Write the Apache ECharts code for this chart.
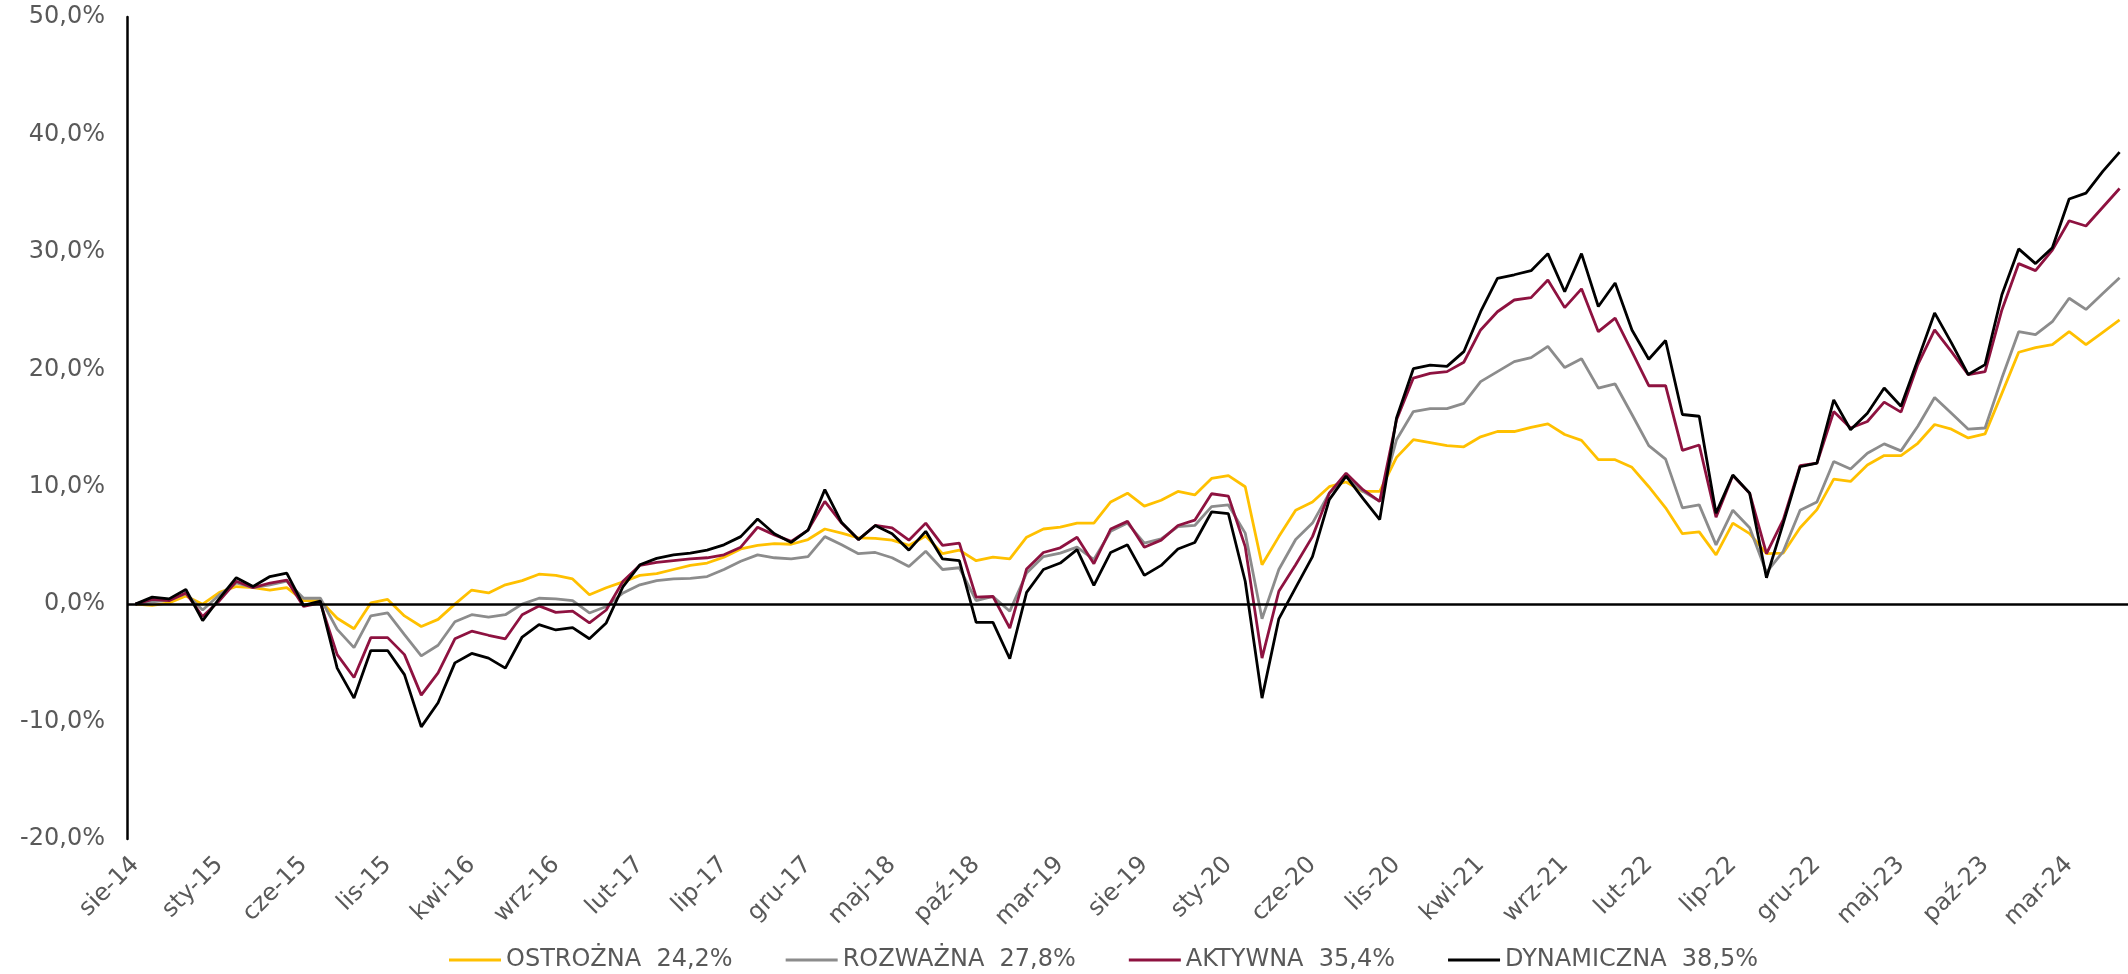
<!DOCTYPE html>
<html>
<head>
<meta charset="utf-8">
<script src="https://cdn.jsdelivr.net/npm/echarts@6/dist/echarts.min.js"></script>
<style>
  html, body { margin: 0; padding: 0; background: #fff; }
  #chart { width: 2128px; height: 974px; }
</style>
</head>
<body>
<div id="chart"></div>
<script>
// miesiące sie-14 ... cze-24
const monthNames = ['sty','lut','mar','kwi','maj','cze','lip','sie','wrz','paź','lis','gru']
const categories = []
for (let i = 0; i < 119; i++) {
  const m = (7 + i) % 12
  const y = 14 + Math.floor((7 + i) / 12)
  categories.push(monthNames[m] + '-' + y)
}

const seriesNames = ['OSTROŻNA  24,2%', 'ROZWAŻNA  27,8%', 'AKTYWNA  35,4%', 'DYNAMICZNA  38,5%']
const seriesColors = ['#FFC000', '#8C8C8C', '#8E1240', '#000000']

const ostrozna = [
  0, -0.1, 0.1, 0.7, 0.0, 1.0, 1.5, 1.4, 1.2, 1.4,
  0.3, 0.3, -1.2, -2.1, 0.1, 0.4, -1.0, -1.9, -1.3, 0.0,
  1.2, 0.95, 1.65, 2.0, 2.55, 2.45, 2.15, 0.8, 1.4, 1.9,
  2.45, 2.6, 2.95, 3.3, 3.5, 4.0, 4.7, 5.0, 5.15, 5.1,
  5.5, 6.4, 6.05, 5.65, 5.6, 5.45, 5.0, 5.8, 4.3, 4.6,
  3.7, 4.0, 3.85, 5.7, 6.4, 6.55, 6.9, 6.9, 8.7, 9.45,
  8.35, 8.85, 9.6, 9.3, 10.7, 10.95, 10.0, 3.35, 5.75, 8.0,
  8.7, 10.0, 10.4, 9.6, 9.6, 12.5, 14.0, 13.75, 13.5, 13.4,
  14.25, 14.7, 14.7, 15.05, 15.35, 14.45, 13.95, 12.3, 12.3, 11.65,
  10.0, 8.2, 6.0, 6.15, 4.2, 6.9, 6.0, 4.3, 4.35, 6.5,
  8.05, 10.65, 10.45, 11.85, 12.65, 12.65, 13.7, 15.3, 14.9, 14.15,
  14.5, 17.95, 21.45, 21.85, 22.1, 23.2, 22.1, 23.15, 24.2
]
const rozwazna = [
  0, 0.2, 0.35, 0.9, -0.5, 0.8, 1.8, 1.4, 1.65, 1.95,
  0.5, 0.5, -2.15, -3.7, -1.0, -0.75, -2.6, -4.4, -3.5, -1.5,
  -0.9, -1.1, -0.9, 0.0, 0.5, 0.45, 0.3, -0.75, -0.2, 0.95,
  1.65, 2.0, 2.15, 2.2, 2.35, 2.95, 3.65, 4.2, 3.95, 3.85,
  4.05, 5.75, 5.05, 4.3, 4.4, 3.95, 3.2, 4.5, 2.95, 3.1,
  0.3, 0.65, -0.6, 2.65, 4.05, 4.35, 4.85, 3.8, 6.2, 6.9,
  5.2, 5.55, 6.6, 6.7, 8.3, 8.45, 6.05, -1.25, 2.95, 5.5,
  6.9, 9.45, 10.9, 9.6, 8.75, 14.0, 16.4, 16.65, 16.65, 17.1,
  18.95, 19.8, 20.65, 21.0, 21.95, 20.15, 20.9, 18.4, 18.75, 16.15,
  13.5, 12.35, 8.2, 8.45, 5.05, 8.0, 6.5, 2.7, 4.5, 8.0,
  8.7, 12.15, 11.5, 12.85, 13.65, 13.05, 15.15, 17.6, 16.25, 14.9,
  15.0, 19.25, 23.2, 22.95, 24.05, 26.05, 25.1, 26.45, 27.8
]
const aktywna = [
  0, 0.4, 0.3, 0.95, -1.05, 0.3, 1.95, 1.4, 1.8, 2.05,
  -0.2, 0.1, -4.3, -6.25, -2.85, -2.85, -4.3, -7.75, -5.85, -2.95,
  -2.3, -2.65, -2.95, -0.9, -0.15, -0.7, -0.6, -1.6, -0.5, 1.95,
  3.3, 3.55, 3.7, 3.85, 3.95, 4.2, 4.85, 6.55, 5.9, 5.35,
  6.3, 8.75, 6.9, 5.5, 6.7, 6.5, 5.45, 6.9, 5.0, 5.2,
  0.6, 0.65, -2.05, 3.0, 4.4, 4.8, 5.7, 3.45, 6.4, 7.05,
  4.85, 5.45, 6.7, 7.15, 9.4, 9.2, 4.9, -4.6, 1.1, 3.35,
  5.75, 9.45, 11.15, 9.75, 8.75, 15.7, 19.25, 19.65, 19.8, 20.6,
  23.35, 24.9, 25.9, 26.1, 27.6, 25.25, 26.85, 23.2, 24.35, 21.5,
  18.6, 18.6, 13.1, 13.55, 7.4, 10.95, 9.45, 4.3, 7.2, 11.8,
  12.0, 16.4, 15.0, 15.55, 17.2, 16.35, 20.4, 23.35, 21.5, 19.55,
  19.8, 25.05, 29.0, 28.4, 30.15, 32.65, 32.2, 33.8, 35.4
]
const dynamiczna = [
  0, 0.6, 0.45, 1.25, -1.4, 0.5, 2.25, 1.5, 2.35, 2.65,
  -0.1, 0.25, -5.45, -8.0, -3.95, -3.95, -6.0, -10.45, -8.4, -5.0,
  -4.2, -4.6, -5.45, -2.8, -1.75, -2.2, -2.0, -2.95, -1.6, 1.5,
  3.35, 3.9, 4.2, 4.35, 4.6, 5.05, 5.75, 7.25, 6.0, 5.25,
  6.3, 9.75, 6.95, 5.5, 6.7, 6.0, 4.6, 6.2, 3.85, 3.7,
  -1.55, -1.55, -4.65, 1.0, 2.95, 3.5, 4.65, 1.6, 4.4, 5.05,
  2.45, 3.3, 4.7, 5.25, 7.85, 7.7, 1.95, -8.0, -1.25, 1.4,
  4.05, 8.9, 10.9, 9.0, 7.2, 15.85, 20.05, 20.35, 20.25, 21.5,
  24.9, 27.75, 28.05, 28.4, 29.85, 26.6, 29.85, 25.35, 27.35, 23.35,
  20.85, 22.45, 16.15, 16.0, 7.75, 11.0, 9.45, 2.25, 6.9, 11.7,
  12.0, 17.4, 14.85, 16.25, 18.4, 16.85, 20.8, 24.8, 22.25, 19.55,
  20.4, 26.35, 30.25, 29.0, 30.35, 34.5, 35.0, 36.85, 38.5
]

const allData = [ostrozna, rozwazna, aktywna, dynamiczna]
const labelColor = '#595959'
const fontFamily = 'DejaVu Sans'

let chart = echarts.init(document.getElementById('chart'))

let series = []
for (let i = 0; i < allData.length; i++) {
  let s = {
    name: seriesNames[i],
    type: 'line',
    data: allData[i],
    showSymbol: false,
    symbol: 'none',
    lineStyle: { color: seriesColors[i], width: 2.8 },
    itemStyle: { color: seriesColors[i] },
    animation: false
  }
  if (i === 0) {
    // linia zero
    s.markLine = {
      silent: true,
      symbol: 'none',
      label: { show: false },
      lineStyle: { color: '#000', width: 2.5, type: 'solid' },
      data: [{ yAxis: 0 }]
    }
  }
  series.push(s)
}

chart.setOption({
  animation: false,
  grid: { left: 127, right: -6, top: 17, bottom: 135 },
  legend: {
    top: 943,
    left: 444,
    icon: 'rect',
    itemWidth: 52,
    itemHeight: 3,
    itemGap: 53,
    textStyle: { color: labelColor, fontSize: 24, fontFamily: fontFamily },
    data: seriesNames
  },
  xAxis: {
    type: 'category',
    data: categories,
    boundaryGap: true,
    axisLine: { show: false, onZero: false },
    axisTick: { show: false },
    axisLabel: {
      interval: 4,
      rotate: 45,
      margin: 22,
      color: labelColor,
      fontSize: 24,
      fontFamily: fontFamily
    }
  },
  yAxis: {
    type: 'value',
    min: -20,
    max: 50,
    interval: 10,
    axisLine: { show: true, lineStyle: { color: '#000', width: 2.5 } },
    axisTick: { show: false },
    splitLine: { show: false },
    axisLabel: {
      margin: 22,
      color: labelColor,
      fontSize: 24,
      fontFamily: fontFamily,
      formatter: v => v.toFixed(1).replace('.', ',') + '%'
    }
  },
  series: series
})
</script>
</body>
</html>
